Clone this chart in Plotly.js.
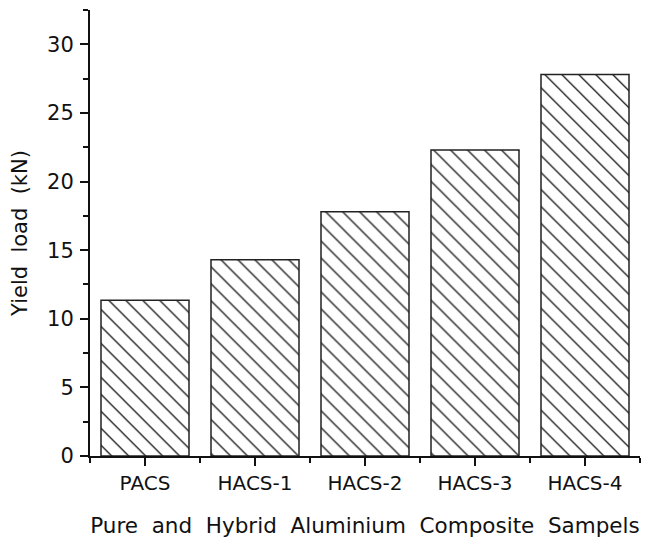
<!DOCTYPE html>
<html>
<head>
<meta charset="utf-8">
<script src="https://cdn.plot.ly/plotly-3.0.1.min.js"></script>
<style>
  html, body { margin: 0; padding: 0; background: #fff; }
  #chart { width: 647px; height: 545px; }
</style>
</head>
<body>
<div id="chart"></div>
<script>
// Sample names and their yield loads (kN)
const samples = ['PACS', 'HACS-1', 'HACS-2', 'HACS-3', 'HACS-4'];
const yieldLoad = [11.35, 14.3, 17.8, 22.3, 27.8];

const positions = samples.map((_, i) => i);
const boundaries = [-0.5].concat(positions.map(i => i + 0.5));

const trace = {
  type: 'bar',
  x: positions,
  y: yieldLoad,
  width: 0.8,
  marker: {
    color: '#ffffff',
    line: { color: '#222222', width: 1.5 },
    pattern: { shape: '\\', size: 12, solidity: 0.11, fgcolor: '#1a1a1a', bgcolor: '#ffffff', fillmode: 'replace' }
  },
  hoverinfo: 'x+y'
};

const layout = {
  width: 647,
  height: 545,
  margin: { l: 90, r: 7, t: 10, b: 89 },
  paper_bgcolor: '#ffffff',
  plot_bgcolor: '#ffffff',
  showlegend: false,
  font: { family: 'DejaVu Sans, sans-serif', color: '#111111' },
  xaxis: {
    type: 'linear',
    range: [-0.5, 4.5],
    tickmode: 'array',
    tickvals: positions,
    ticktext: samples,
    ticks: 'outside',
    ticklen: 8,
    tickwidth: 2,
    tickcolor: '#111',
    ticklabelstandoff: 0,
    tickfont: { size: 20, family: 'DejaVu Sans, sans-serif' },
    minor: { tickmode: 'array', tickvals: boundaries, ticks: 'outside', ticklen: 5, tickwidth: 2, tickcolor: '#111' },
    showline: true,
    linecolor: '#111',
    linewidth: 2,
    showgrid: false,
    zeroline: false,
    title: { text: 'Pure&nbsp; and&nbsp; Hybrid&nbsp; Aluminium&nbsp; Composite&nbsp; Sampels', font: { size: 21.5 }, standoff: 24 }
  },
  yaxis: {
    range: [0, 32.5],
    tickmode: 'linear',
    tick0: 0,
    dtick: 5,
    ticks: 'outside',
    ticklen: 8,
    tickwidth: 2,
    tickcolor: '#111',
    ticklabelstandoff: 2,
    tickfont: { size: 21, family: 'DejaVu Sans, sans-serif' },
    minor: { tick0: 2.5, dtick: 5, ticks: 'outside', ticklen: 5, tickwidth: 2, tickcolor: '#111' },
    showline: true,
    linecolor: '#111',
    linewidth: 2,
    showgrid: false,
    zeroline: false,
    title: { text: 'Yield&nbsp; load&nbsp; (kN)', font: { size: 21 }, standoff: 14 }
  }
};

Plotly.newPlot('chart', [trace], layout, { displayModeBar: false, staticPlot: true });
</script>
</body>
</html>
